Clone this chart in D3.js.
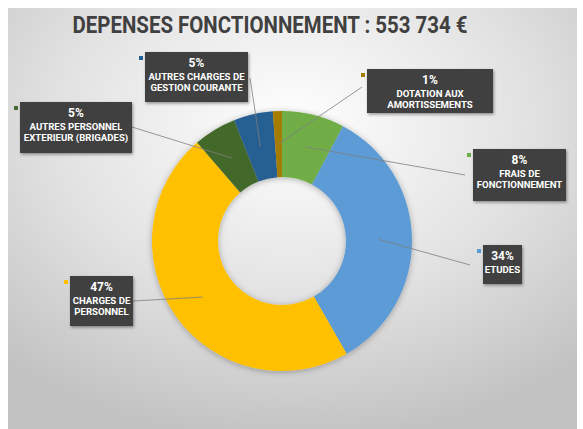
<!DOCTYPE html>
<html>
<head>
<meta charset="utf-8">
<script src="https://cdn.jsdelivr.net/npm/d3@7/dist/d3.min.js"></script>
<style>
  body { margin: 0; background: #fff; }
  text { font-family: Roboto, "Liberation Sans", sans-serif; }
</style>
</head>
<body>
<div id="chart"></div>
<script>
var title = "DEPENSES FONCTIONNEMENT : 553 734 €";
var categories = ["FRAIS DE FONCTIONNEMENT", "ETUDES", "CHARGES DE PERSONNEL",
  "AUTRES PERSONNEL EXTERIEUR (BRIGADES)", "AUTRES CHARGES DE GESTION COURANTE",
  "DOTATION AUX AMORTISSEMENTS"];
var labelLines = [["FRAIS DE", "FONCTIONNEMENT"], ["ETUDES"], ["CHARGES DE", "PERSONNEL"],
  ["AUTRES PERSONNEL", "EXTERIEUR (BRIGADES)"], ["AUTRES CHARGES DE", "GESTION COURANTE"],
  ["DOTATION AUX", "AMORTISSEMENTS"]];
var amounts = [43000, 188000, 260000, 29500, 27000, 6234];
var colors = ["#70ad47", "#5b9bd5", "#ffc000", "#43682b", "#255e91", "#a67c00"];

// where the data label boxes sit (x, y, w, h) and where the leader line meets them
var boxes = [
  {x: 473, y: 149, w: 93, h: 52, lx: 465, ly: 175},
  {x: 483, y: 245, w: 39, h: 39, lx: 470, ly: 265},
  {x: 70, y: 276, w: 63, h: 50, lx: 133, ly: 301},
  {x: 20, y: 102, w: 112, h: 51, lx: 132, ly: 127},
  {x: 145, y: 52, w: 103, h: 50, lx: 250, ly: 78},
  {x: 367, y: 69, w: 126, h: 44, lx: 362, ly: 87}
];

var w = 583, h = 429;
var cx = 282, cy = 241, rOut = 130, rIn = 64;

var svg = d3.select("#chart").append("svg")
  .attr("width", w).attr("height", h);

var defs = svg.append("defs");
var grad = defs.append("radialGradient").attr("id", "bg")
  .attr("cx", "50%").attr("cy", "28%").attr("r", "75%");
grad.append("stop").attr("offset", "0%").attr("stop-color", "#ffffff");
grad.append("stop").attr("offset", "55%").attr("stop-color", "#e2e2e2");
grad.append("stop").attr("offset", "100%").attr("stop-color", "#c2c2c2");

var sh = defs.append("filter").attr("id", "shadow")
  .attr("x", "-20%").attr("y", "-20%").attr("width", "140%").attr("height", "140%");
sh.append("feDropShadow").attr("dx", 0).attr("dy", 1).attr("stdDeviation", 3)
  .attr("flood-color", "#000").attr("flood-opacity", 0.3);

var bsh = defs.append("filter").attr("id", "boxshadow")
  .attr("x", "-20%").attr("y", "-20%").attr("width", "140%").attr("height", "140%");
bsh.append("feDropShadow").attr("dx", 1).attr("dy", 1.5).attr("stdDeviation", 1.5)
  .attr("flood-color", "#000").attr("flood-opacity", 0.4);

svg.append("rect")
  .attr("x", 8).attr("y", 8).attr("width", 569).attr("height", h - 8)
  .attr("fill", "url(#bg)");

svg.append("text")
  .attr("x", 270).attr("y", 33)
  .attr("text-anchor", "middle")
  .attr("textLength", 395).attr("lengthAdjust", "spacingAndGlyphs")
  .style("font-size", "23px").style("font-weight", "bold")
  .style("fill", "#404040")
  .text(title);

var pie = d3.pie().sort(null).value(function(d) { return d; });
var arc = d3.arc().innerRadius(rIn).outerRadius(rOut);
var mid = d3.arc().innerRadius((rIn + rOut) / 2).outerRadius((rIn + rOut) / 2);
var total = d3.sum(amounts);
var arcs = pie(amounts);

var g = svg.append("g").attr("transform", "translate(" + cx + "," + cy + ")");

g.append("g").attr("filter", "url(#shadow)")
  .selectAll("path")
  .data(arcs)
  .enter()
  .append("path")
  .attr("d", arc)
  .attr("fill", function(d, i) { return colors[i]; });

// leader lines
g.selectAll("line.lead")
  .data(arcs)
  .enter()
  .append("line")
  .attr("class", "lead")
  .attr("x1", function(d) { return mid.centroid(d)[0]; })
  .attr("y1", function(d) { return mid.centroid(d)[1]; })
  .attr("x2", function(d, i) { return boxes[i].lx - cx; })
  .attr("y2", function(d, i) { return boxes[i].ly - cy; })
  .attr("stroke", "#7f7f7f")
  .attr("stroke-width", 0.8);

var labels = svg.selectAll("g.lab")
  .data(arcs)
  .enter()
  .append("g")
  .attr("class", "lab");

labels.append("rect")
  .attr("x", function(d, i) { return boxes[i].x; })
  .attr("y", function(d, i) { return boxes[i].y; })
  .attr("width", function(d, i) { return boxes[i].w; })
  .attr("height", function(d, i) { return boxes[i].h; })
  .attr("fill", "#404040")
  .attr("filter", "url(#boxshadow)");

labels.append("rect")
  .attr("x", function(d, i) { return boxes[i].x - 6; })
  .attr("y", function(d, i) { return boxes[i].y + 4; })
  .attr("width", 4).attr("height", 4)
  .attr("fill", function(d, i) { return colors[i]; });

labels.append("text")
  .attr("x", function(d, i) { return boxes[i].x + boxes[i].w / 2; })
  .attr("y", function(d, i) { return boxes[i].y + 15; })
  .attr("text-anchor", "middle")
  .style("font-size", "12px").style("font-weight", "bold").style("fill", "#fff")
  .text(function(d) { return Math.round(d.value / total * 100) + "%"; });

labels.each(function(d, i) {
  var sel = d3.select(this);
  labelLines[i].forEach(function(t, k) {
    sel.append("text")
      .attr("x", boxes[i].x + boxes[i].w / 2)
      .attr("y", boxes[i].y + 27.5 + k * 11.5)
      .attr("text-anchor", "middle")
      .style("font-size", "9.6px").style("font-weight", "bold").style("fill", "#fff")
      .text(t);
  });
});
</script>
</body>
</html>
